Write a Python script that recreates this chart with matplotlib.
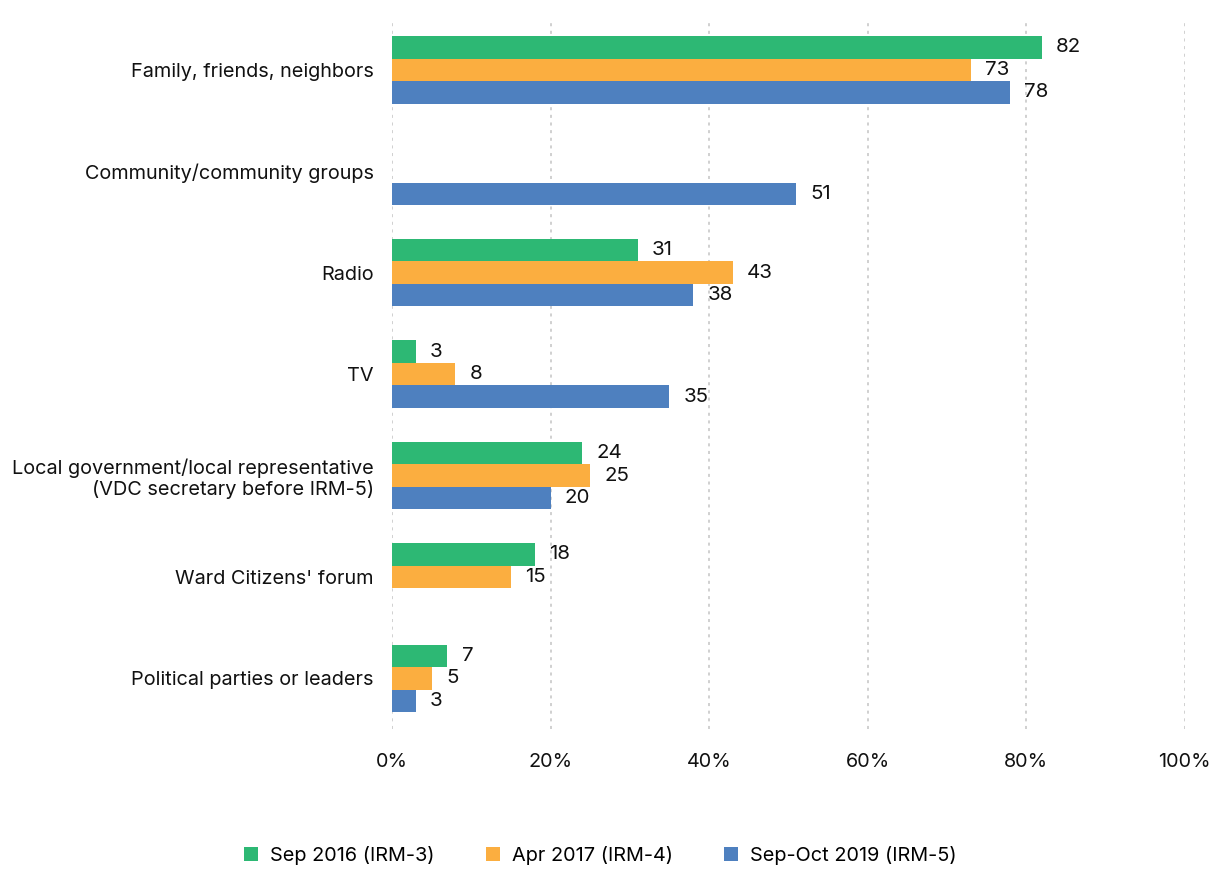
import matplotlib
matplotlib.use("Agg")
import matplotlib.pyplot as plt
import numpy as np

plt.rcParams['font.family'] = ['Inter', 'DejaVu Sans']

categories = [
    "Family, friends, neighbors",
    "Community/community groups",
    "Radio",
    "TV",
    "Local government/local representative\n(VDC secretary before IRM-5)",
    "Ward Citizens' forum",
    "Political parties or leaders",
]
series_names = ["Sep 2016 (IRM-3)", "Apr 2017 (IRM-4)", "Sep-Oct 2019 (IRM-5)"]
sep_2016 = [82, None, 31, 3, 24, 18, 7]
apr_2017 = [73, None, 43, 8, 25, 15, 5]
sep_oct_2019 = [78, 51, 38, 35, 20, None, 3]
x_ticks = [0, 20, 40, 60, 80, 100]
x_tick_labels = ["0%", "20%", "40%", "60%", "80%", "100%"]

colors = ["#2db874", "#fbae40", "#4e80bf"]
fs = 14.3

fig = plt.figure(figsize=(12.25, 8.69), dpi=100)
ax = fig.add_axes([0.32, 0.161, 0.647, 0.817])

n = len(categories)
y = np.arange(n)
bh = 0.222
offsets = [-bh, 0, bh]

for series, off, col, name in zip([sep_2016, apr_2017, sep_oct_2019], offsets, colors, series_names):
    ys = [yi + off for yi, v in zip(y, series) if v is not None]
    vs = [v for v in series if v is not None]
    ax.barh(ys, vs, height=bh, color=col, label=name, zorder=3)
    for yy, v in zip(ys, vs):
        ax.text(v + 1.8, yy, str(v), va='center', ha='left', fontsize=fs + 0.5, color='#111111')

ax.set_ylim(n - 0.5, -0.5)
ax.set_xlim(0, 100)
ax.set_yticks(y)
ax.set_yticklabels(categories, fontsize=fs, color='#111111', linespacing=1.15)
ax.set_xticks(x_ticks)
ax.set_xticklabels(x_tick_labels, fontsize=fs, color='#111111')
ax.tick_params(axis='both', length=0)
ax.tick_params(axis='x', pad=17)
ax.tick_params(axis='y', pad=13)
for lbl in ax.get_yticklabels():
    lbl.set_horizontalalignment('right')
    lbl.set_multialignment('right')

for s in ax.spines.values():
    s.set_visible(False)
ax.grid(axis='x', color='#c4c4c4', linestyle=(0, (2, 3)), linewidth=1.1, zorder=0)
ax.set_axisbelow(True)

handles, labels = ax.get_legend_handles_labels()
fig.legend(handles, labels, loc='center', bbox_to_anchor=(0.49, 0.016),
           ncol=3, frameon=False, fontsize=fs, handlelength=0.7, handleheight=0.7,
           columnspacing=2.6, handletextpad=0.6)

fig.savefig("out.png", dpi=100)
